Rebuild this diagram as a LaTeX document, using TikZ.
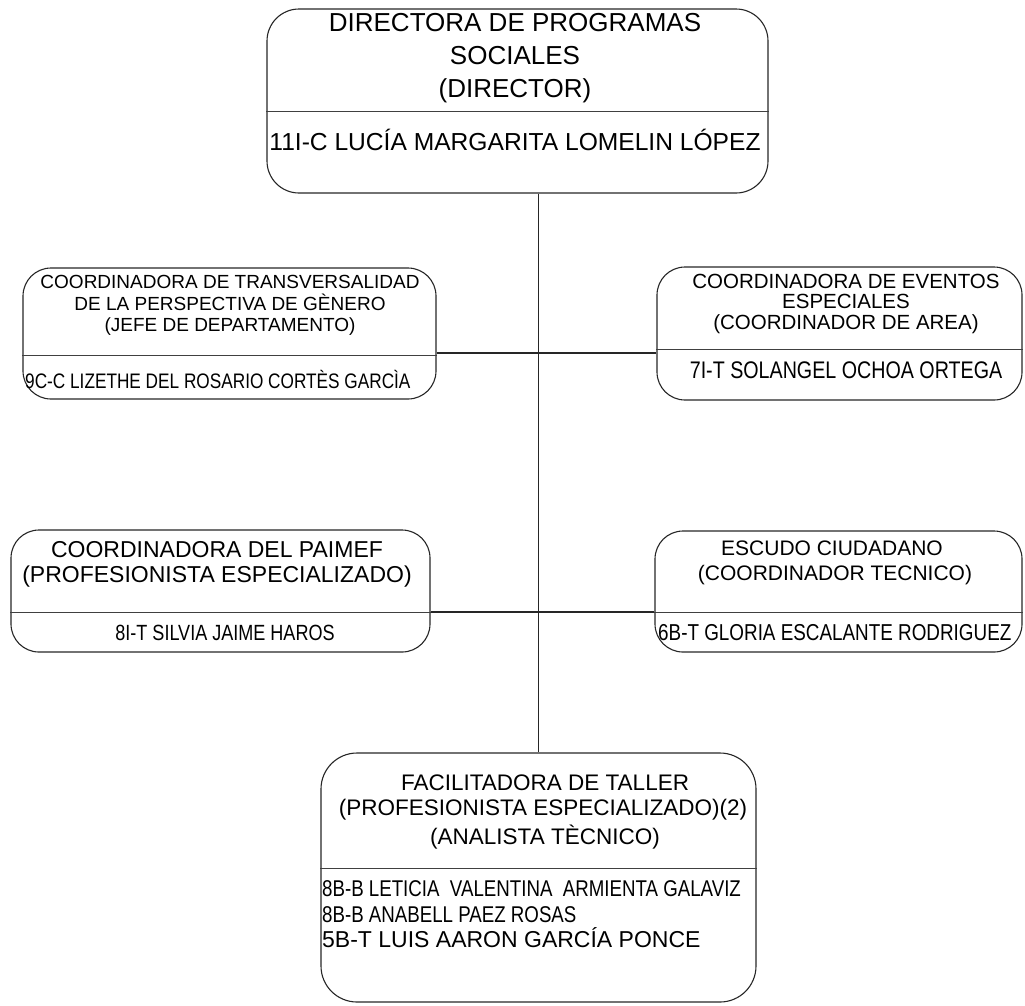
\documentclass[tikz,border=0pt]{standalone}
\usepackage{fontspec}
\setmainfont{Liberation Sans}
\newfontfamily\narrowfont[FakeStretch=0.82]{Liberation Sans}
\usepackage{tikz}
\usetikzlibrary{calc, positioning}

\tikzset{
  orgbox/.style={draw=black!85, line width=1.1pt, rounded corners=#1, inner sep=0pt},
  orgbox/.default=28pt,
  divline/.style={draw=black!75, line width=0.9pt},
  link/.style={draw=black!85, line width=1.1pt},
  ttl/.style={inner sep=0pt, anchor=base},
  who/.style={inner sep=0pt, anchor=base west},
}

\begin{document}
\begin{tikzpicture}[x=1pt, y=-1pt]
            \useasboundingbox (0,0) rectangle (1025,1005);

            % boxes
            \node[orgbox=32pt, minimum width=501pt, minimum height=184pt] (dir) at (517.5,101) {};
            \node[orgbox, minimum width=413pt, minimum height=131pt] (gen) at (229.5,333.5) {};
            \node[orgbox, minimum width=365pt, minimum height=133pt] (eve) at (839.5,333.5) {};
            \node[orgbox, minimum width=419pt, minimum height=122pt] (pai) at (220.5,591) {};
            \node[orgbox, minimum width=367pt, minimum height=121pt] (esc) at (838.5,591.5) {};
            \node[orgbox=36pt, minimum width=435pt, minimum height=249pt] (fac) at (538.5,877.5) {};

            \draw[divline] (dir.west |- 0,111) -- (dir.east |- 0,111);
            \draw[divline] (gen.west |- 0,355) -- (gen.east |- 0,355);
            \draw[divline] (eve.west |- 0,349) -- (eve.east |- 0,349);
            \draw[divline] (pai.west |- 0,612) -- (pai.east |- 0,612);
            \draw[divline] (esc.west |- 0,612) -- (esc.east |- 0,612);
            \draw[divline] (fac.west |- 0,868) -- (fac.east |- 0,868);

            % connectors
            \draw[link] (fac.north |- dir.south) -- (fac.north);
            \draw[link] (gen.east |- 0,353) -- (eve.west |- 0,353);
            \draw[link] (pai.east |- 0,612) -- (esc.west |- 0,612);

            % director
            \begin{scope}[font=\fontsize{26}{30}\selectfont]
                \node[ttl] (dirT1) at (515,31) {DIRECTORA DE PROGRAMAS};
                \node[ttl] (dirT2) at (515,64) {SOCIALES};
                \node[ttl] (dirT3) at (515,97) {(DIRECTOR)};
            \end{scope}
            \node[ttl, font=\fontsize{24.6}{30}\selectfont] (dirN) at (515,150)
                {11I-C LUCÍA MARGARITA LOMELIN LÓPEZ};

            % transversalidad
            \begin{scope}[font=\fontsize{19}{22}\selectfont]
                \node[ttl] (genT1) at (230,288) {COORDINADORA DE TRANSVERSALIDAD};
                \node[ttl] (genT2) at (230,310) {DE LA PERSPECTIVA DE GÈNERO};
                \node[ttl] (genT3) at (230,331) {(JEFE DE DEPARTAMENTO)};
            \end{scope}
            \node[who, font=\narrowfont\fontsize{21}{25}\selectfont] (genN) at (25,388.5)
                {9C-C LIZETHE DEL ROSARIO CORTÈS GARCÌA};

            % eventos
            \begin{scope}[font=\fontsize{20.5}{22}\selectfont]
                \node[ttl] (eveT1) at (846,288.5) {COORDINADORA DE EVENTOS};
                \node[ttl] (eveT2) at (846,308.5) {ESPECIALES};
                \node[ttl] (eveT3) at (846,329.5) {(COORDINADOR DE AREA)};
            \end{scope}
            \node[ttl, font=\narrowfont\fontsize{24}{28}\selectfont] (eveN) at (846,378)
                {7I-T SOLANGEL OCHOA ORTEGA};

            % paimef
            \begin{scope}[font=\fontsize{23}{26}\selectfont]
                \node[ttl] (paiT1) at (217,557.5) {COORDINADORA DEL PAIMEF};
                \node[ttl] (paiT2) at (217,582.5) {(PROFESIONISTA ESPECIALIZADO)};
            \end{scope}
            \node[ttl, font=\narrowfont\fontsize{22}{26}\selectfont] (paiN) at (225,640)
                {8I-T SILVIA JAIME HAROS};

            % escudo
            \begin{scope}[font=\fontsize{21}{25}\selectfont]
                \node[ttl] (escT1) at (832,555.5) {ESCUDO CIUDADANO};
                \node[ttl] (escT2) at (835,580.5) {(COORDINADOR TECNICO)};
            \end{scope}
            \node[who, font=\narrowfont\fontsize{23}{27}\selectfont] (escN) at (658,640)
                {6B-T GLORIA ESCALANTE RODRIGUEZ};

            % taller
            \begin{scope}[font=\fontsize{22.5}{27}\selectfont]
                \node[ttl] (facT1) at (545,790) {FACILITADORA DE TALLER};
                \node[ttl] (facT2) at (543,815) {(PROFESIONISTA ESPECIALIZADO)(2)};
                \node[ttl] (facT3) at (545,844) {(ANALISTA TÈCNICO)};
            \end{scope}
            \node[who, font=\narrowfont\fontsize{22.8}{26}\selectfont] (facA) at (322,896)
                {8B-B LETICIA\ \ VALENTINA\ \ ARMIENTA GALAVIZ};
            \node[who, font=\narrowfont\fontsize{22.8}{26}\selectfont] (facB) at (322,922)
                {8B-B ANABELL PAEZ ROSAS};
            \node[who, font=\fontsize{23}{27}\selectfont] (facC) at (322,947)
                {5B-T LUIS AARON GARCÍA PONCE};
\end{tikzpicture}
\end{document}
